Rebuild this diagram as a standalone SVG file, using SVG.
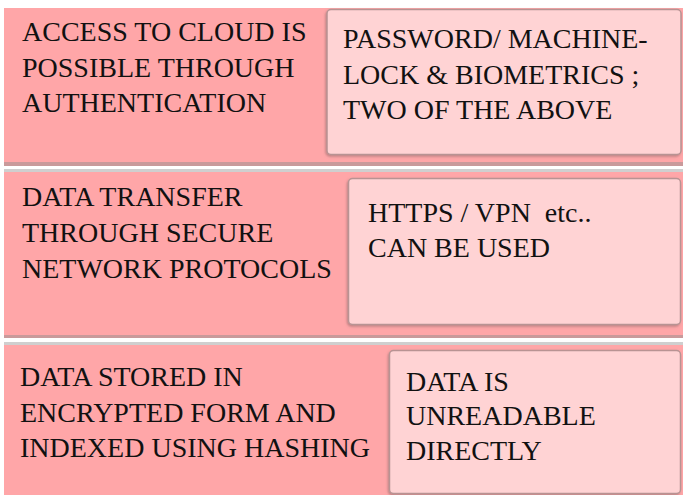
<svg xmlns="http://www.w3.org/2000/svg" width="683" height="495" viewBox="0 0 683 495">
<defs>
<style>
.band{fill:#ffa6a8}
.box{fill:#ffd3d4;stroke:#b89393;stroke-width:1.5}
.sh{fill:#c99a9b}
.gl{fill:#cfcfcf}
.t{font-family:'Liberation Serif','Times New Roman',Tinos,'DejaVu Serif',serif;font-size:28px;fill:#111}
</style>
<filter id="ds" x="-5%" y="-5%" width="110%" height="115%">
<feDropShadow dx="-1" dy="1.5" stdDeviation="1" flood-color="#806060" flood-opacity="0.5"/>
</filter>
</defs>
<rect width="683" height="495" fill="#ffffff"/>
<g id="row1">
<rect class="band" x="4" y="8" width="679" height="155"/>
<rect class="sh" x="4" y="162" width="679" height="4"/>
<rect class="gl" x="4" y="169" width="679" height="3"/>
<rect class="box" x="327" y="9.5" width="354" height="145" rx="4" filter="url(#ds)"/>
<text class="t" x="22" y="41">ACCESS TO CLOUD IS</text>
<text class="t" x="22" y="77">POSSIBLE THROUGH</text>
<text class="t" x="22" y="112">AUTHENTICATION</text>
<text class="t" x="343" y="48">PASSWORD/ MACHINE-</text>
<text class="t" x="343" y="84">LOCK &amp; BIOMETRICS ;</text>
<text class="t" x="343" y="119">TWO OF THE ABOVE</text>
</g>
<g id="row2">
<rect class="band" x="4" y="172" width="679" height="163"/>
<rect class="sh" x="4" y="335" width="679" height="3"/>
<rect class="gl" x="4" y="342" width="679" height="3"/>
<rect class="box" x="348.5" y="178.5" width="332" height="146" rx="4" filter="url(#ds)"/>
<text class="t" x="22" y="206">DATA TRANSFER</text>
<text class="t" x="22" y="242">THROUGH SECURE</text>
<text class="t" x="22" y="278">NETWORK PROTOCOLS</text>
<text class="t" x="368" y="222" xml:space="preserve">HTTPS / VPN  etc..</text>
<text class="t" x="368" y="257">CAN BE USED</text>
</g>
<g id="row3">
<rect class="band" x="4" y="345" width="679" height="150"/>
<rect class="box" x="389.5" y="350.5" width="291" height="143" rx="4" filter="url(#ds)"/>
<text class="t" x="20" y="386">DATA STORED IN</text>
<text class="t" x="20" y="422">ENCRYPTED FORM AND</text>
<text class="t" x="20" y="457">INDEXED USING HASHING</text>
<text class="t" x="406" y="391">DATA IS</text>
<text class="t" x="406" y="425">UNREADABLE</text>
<text class="t" x="406" y="460">DIRECTLY</text>
</g>
<g id="connectors"></g>
</svg>
